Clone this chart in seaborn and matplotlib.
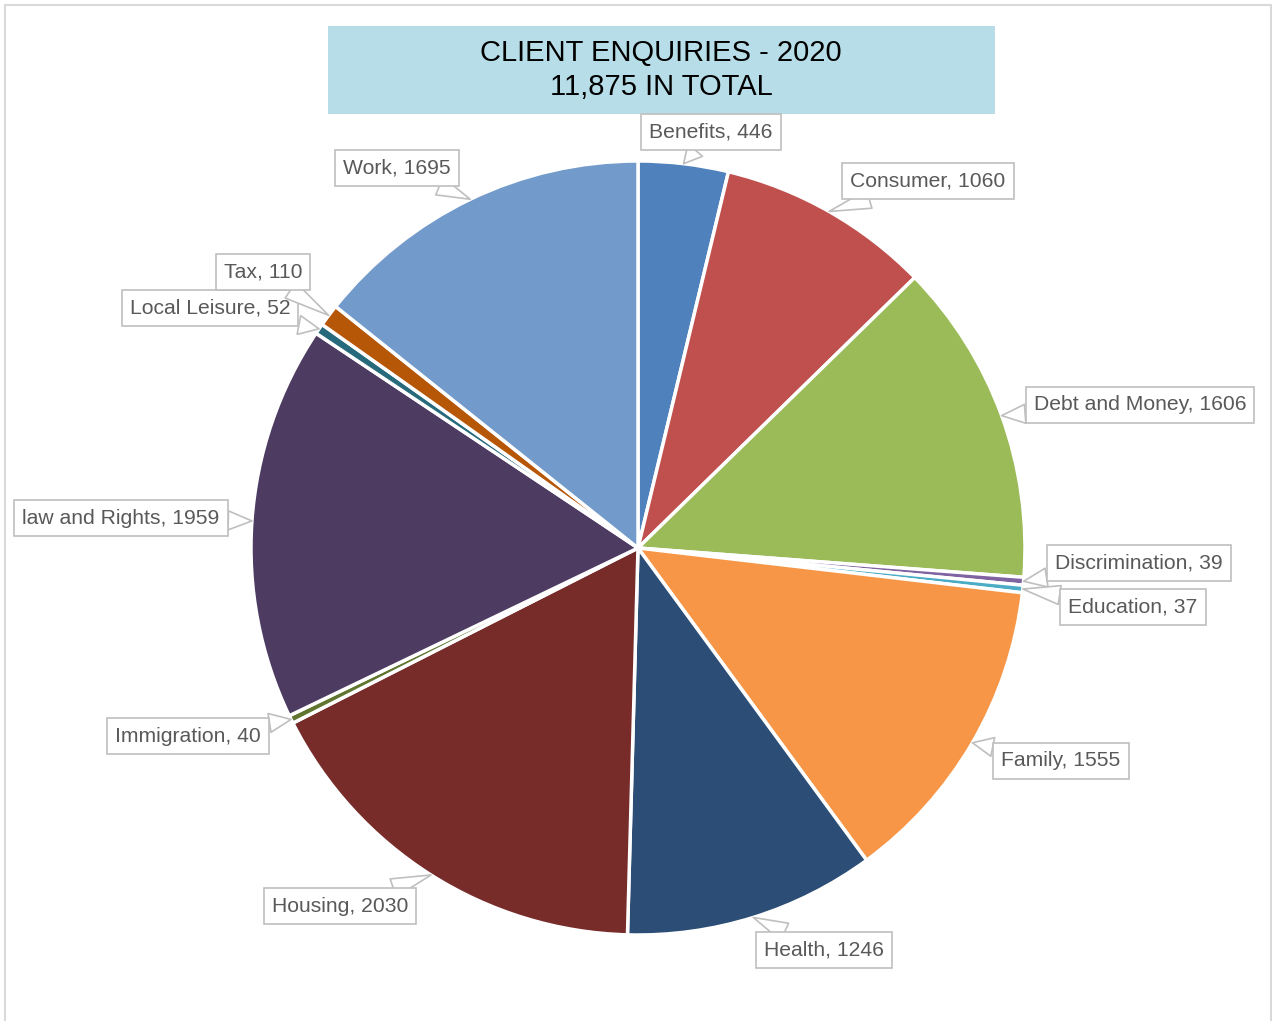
import numpy as np
import matplotlib
matplotlib.use("Agg")
import matplotlib.pyplot as plt
from matplotlib.patches import Rectangle
import seaborn as sns

categories = ["Benefits", "Consumer", "Debt and Money", "Discrimination", "Education",
              "Family", "Health", "Housing", "Immigration", "law and Rights",
              "Local Leisure", "Tax", "Work"]
values = [446, 1060, 1606, 39, 37, 1555, 1246, 2030, 40, 1959, 52, 110, 1695]
colors = ["#4F81BD", "#C0504D", "#9BBB59", "#8064A2", "#4BACC6", "#F79646", "#2C4D75",
          "#772C2A", "#5F7530", "#4D3B62", "#276A7C", "#B65708", "#729ACA"]
title_lines = ["CLIENT ENQUIRIES - 2020", "11,875 IN TOTAL"]

# label box centres in pixel coords (x, y from top)
label_pos = [(711, 132), (928, 181), (1140, 405), (1139, 563), (1133, 607),
             (1061, 761), (824, 950), (340, 906), (188, 736), (121, 518),
             (210, 308), (263, 272), (397, 168)]

sns.set_theme(style="white")
plt.rcParams['font.family'] = ['Liberation Sans', 'DejaVu Sans']

W, H = 1272, 1021
fig = plt.figure(figsize=(W / 100, H / 100), dpi=100)
ax = fig.add_axes([0, 0, 1, 1])

cx, cy, R = 638, H - 548, 387
wedges, _ = ax.pie(values, colors=colors, startangle=90, counterclock=False,
                   center=(cx, cy), radius=R, frame=True,
                   wedgeprops=dict(edgecolor="white", linewidth=2.5))
ax.set_xlim(0, W)
ax.set_ylim(0, H)
ax.set_aspect("equal")
ax.axis("off")

total = sum(values)
cum = np.cumsum([0] + values[:-1])
for cat, v, c0, (bx, by) in zip(categories, values, cum, label_pos):
    mid = (c0 + v / 2) / total * 2 * np.pi
    tx = cx + R * np.sin(mid)
    ty = cy + R * np.cos(mid)
    ax.annotate(f"{cat}, {v}", xy=(tx, ty), xytext=(bx, H - by),
                ha="center", va="center", fontsize=15.2, color="#595959",
                bbox=dict(boxstyle="square,pad=0.38", fc="white", ec="#bfbfbf", lw=1.2),
                arrowprops=dict(arrowstyle="wedge,tail_width=0.9,shrink_factor=0.5",
                                fc="white", ec="#bfbfbf", lw=1.2,
                                shrinkA=0, shrinkB=0),
                zorder=5)

# title box
ax.add_patch(Rectangle((328, H - 114), 667, 88, fc="#B7DEE8", ec="none", zorder=4))
ax.text(661, H - 70, "\n".join(title_lines), ha="center", va="center",
        fontsize=21, color="black", linespacing=1.25, zorder=6)

# outer border
fig.patches.append(Rectangle((4.5 / W, -5 / H), (W - 5.5) / W, (H + 0.5) / H,
                             transform=fig.transFigure, fill=False,
                             ec="#d9d9d9", lw=1.5))

fig.savefig("out.png", dpi=100, facecolor="white")
